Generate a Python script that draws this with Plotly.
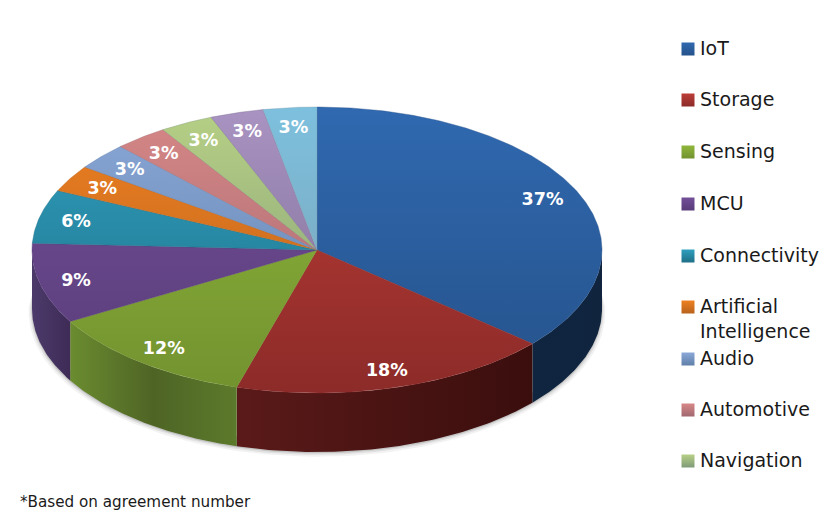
import numpy as np
import plotly.graph_objects as go

# --- data ---
categories = ["IoT", "Storage", "Sensing", "MCU", "Connectivity",
              "Artificial<br>Intelligence", "Audio", "Automotive", "Navigation", "", ""]
agreements = [12, 6, 4, 3, 2, 1, 1, 1, 1, 1, 1]
percent_labels = [37, 18, 12, 9, 6, 3, 3, 3, 3, 3, 3]
footnote = "*Based on agreement number"

# --- styles ---
top_light = ["#3069B0", "#BC3C36", "#8FB63B", "#734F99", "#2F9FBF", "#EE8022",
             "#8BA8D8", "#D78786", "#B7D085", "#A993C2", "#7DC0DE"]
top_dark = ["#25528A", "#8C2B29", "#72922F", "#583C78", "#1F6F85", "#B8621C",
            "#5F7FA8", "#A06870", "#7F9A78", "#7A6A90", "#7A9FB0"]
side_stops = [["#0F2540", "#10243E"],
              ["#5A1A19", "#3A0E0D"],
              ["#6B8C30", "#4E6425", "#5C7A2B"],
              ["#4C3A6B", "#3E2B56"]]

CX, CY, RX, RY, DEPTH = 317, 250, 285, 143, 59
LABEL_R = 0.87
LABEL_DY = 2
legend_y = [49, 100, 152, 204, 256, 307, 359, 410, 461]
LEG_X = 688


def pt(deg, dy=0.0, scale=1.0):
    a = np.radians(deg)
    return CX + scale * RX * np.sin(a), CY - RY * scale * np.cos(a) + dy


fig = go.Figure()
edges = np.concatenate([[0], np.cumsum(agreements)]) / sum(agreements) * 360

# soft shadow under the rim
for grow, off, alpha in [(1.012, 3, 0.05), (1.006, 2, 0.08), (1.002, 1, 0.12)]:
    t = np.linspace(88, 272, 120)
    x, y = pt(t, DEPTH + off, grow)
    x2, y2 = pt(t[::-1], DEPTH - 10)
    fig.add_trace(go.Scatter(x=np.r_[x, x2], y=np.r_[y, y2], mode="lines", fill="toself",
                             line=dict(width=0), fillcolor=f"rgba(0,0,0,{alpha})",
                             hoverinfo="skip", showlegend=False))

# rim of the front half
for i in range(len(agreements)):
    lo, hi = max(edges[i], 90), min(edges[i + 1], 270)
    if lo >= hi:
        continue
    t = np.linspace(lo, hi, 80)
    x, y = pt(t)
    xb, yb = pt(t[::-1], DEPTH)
    stops = side_stops[i]
    scale = [[k / (len(stops) - 1), c] for k, c in enumerate(stops)]
    fig.add_trace(go.Scatter(
        x=np.r_[x, xb], y=np.r_[y, yb], mode="lines", fill="toself", line=dict(width=0),
        fillgradient=dict(type="horizontal", colorscale=scale),
        hoverinfo="skip", showlegend=False))

# top face
for i in range(len(agreements)):
    t = np.linspace(edges[i], edges[i + 1], max(12, int(agreements[i] * 24)))
    x, y = pt(t)
    fig.add_trace(go.Scatter(
        x=np.r_[CX, x, CX], y=np.r_[CY, y, CY], mode="lines", fill="toself",
        line=dict(width=0.4, color=top_dark[i]),
        fillgradient=dict(type="vertical", start=CY - RY, stop=CY + RY,
                          colorscale=[[0, top_light[i]], [1, top_dark[i]]]),
        hoverinfo="skip", showlegend=False))

# percentage labels
mid = (edges[:-1] + edges[1:]) / 2
lx, ly = pt(mid, LABEL_DY, LABEL_R)
fig.add_trace(go.Scatter(x=lx, y=ly, mode="text", text=[f"{v}%" for v in percent_labels],
                         textfont=dict(family="DejaVu Sans", size=17.5, color="white", weight="bold"),
                         hoverinfo="skip", showlegend=False))

# legend
names = [c for c in categories if c]
for i, (name, yy) in enumerate(zip(names, legend_y)):
    fig.add_trace(go.Scatter(
        x=[LEG_X], y=[yy], mode="markers",
        marker=dict(symbol="square", size=13, color=top_light[i],
                    gradient=dict(type="vertical", color=top_dark[i]), line=dict(width=0)),
        hoverinfo="skip", showlegend=False))
    fig.add_annotation(x=699, y=yy - 13, text=name, xref="x", yref="y", xanchor="left", yanchor="top",
                       align="left", showarrow=False, borderpad=0,
                       font=dict(family="DejaVu Sans", size=19, color="#1a1a1a"))

fig.add_annotation(x=19, y=502, text=footnote, xref="x", yref="y", xanchor="left", yanchor="middle",
                   showarrow=False, borderpad=0, font=dict(family="DejaVu Sans", size=15.2, color="#1a1a1a"))

fig.update_layout(
    width=826, height=518, margin=dict(l=0, r=0, t=0, b=0),
    paper_bgcolor="white", plot_bgcolor="white",
    xaxis=dict(range=[0, 826], visible=False, fixedrange=True),
    yaxis=dict(range=[518, 0], visible=False, fixedrange=True),
)
fig.write_html("out.html", config={"displayModeBar": False},
               post_script="document.body.style.margin='0';")
